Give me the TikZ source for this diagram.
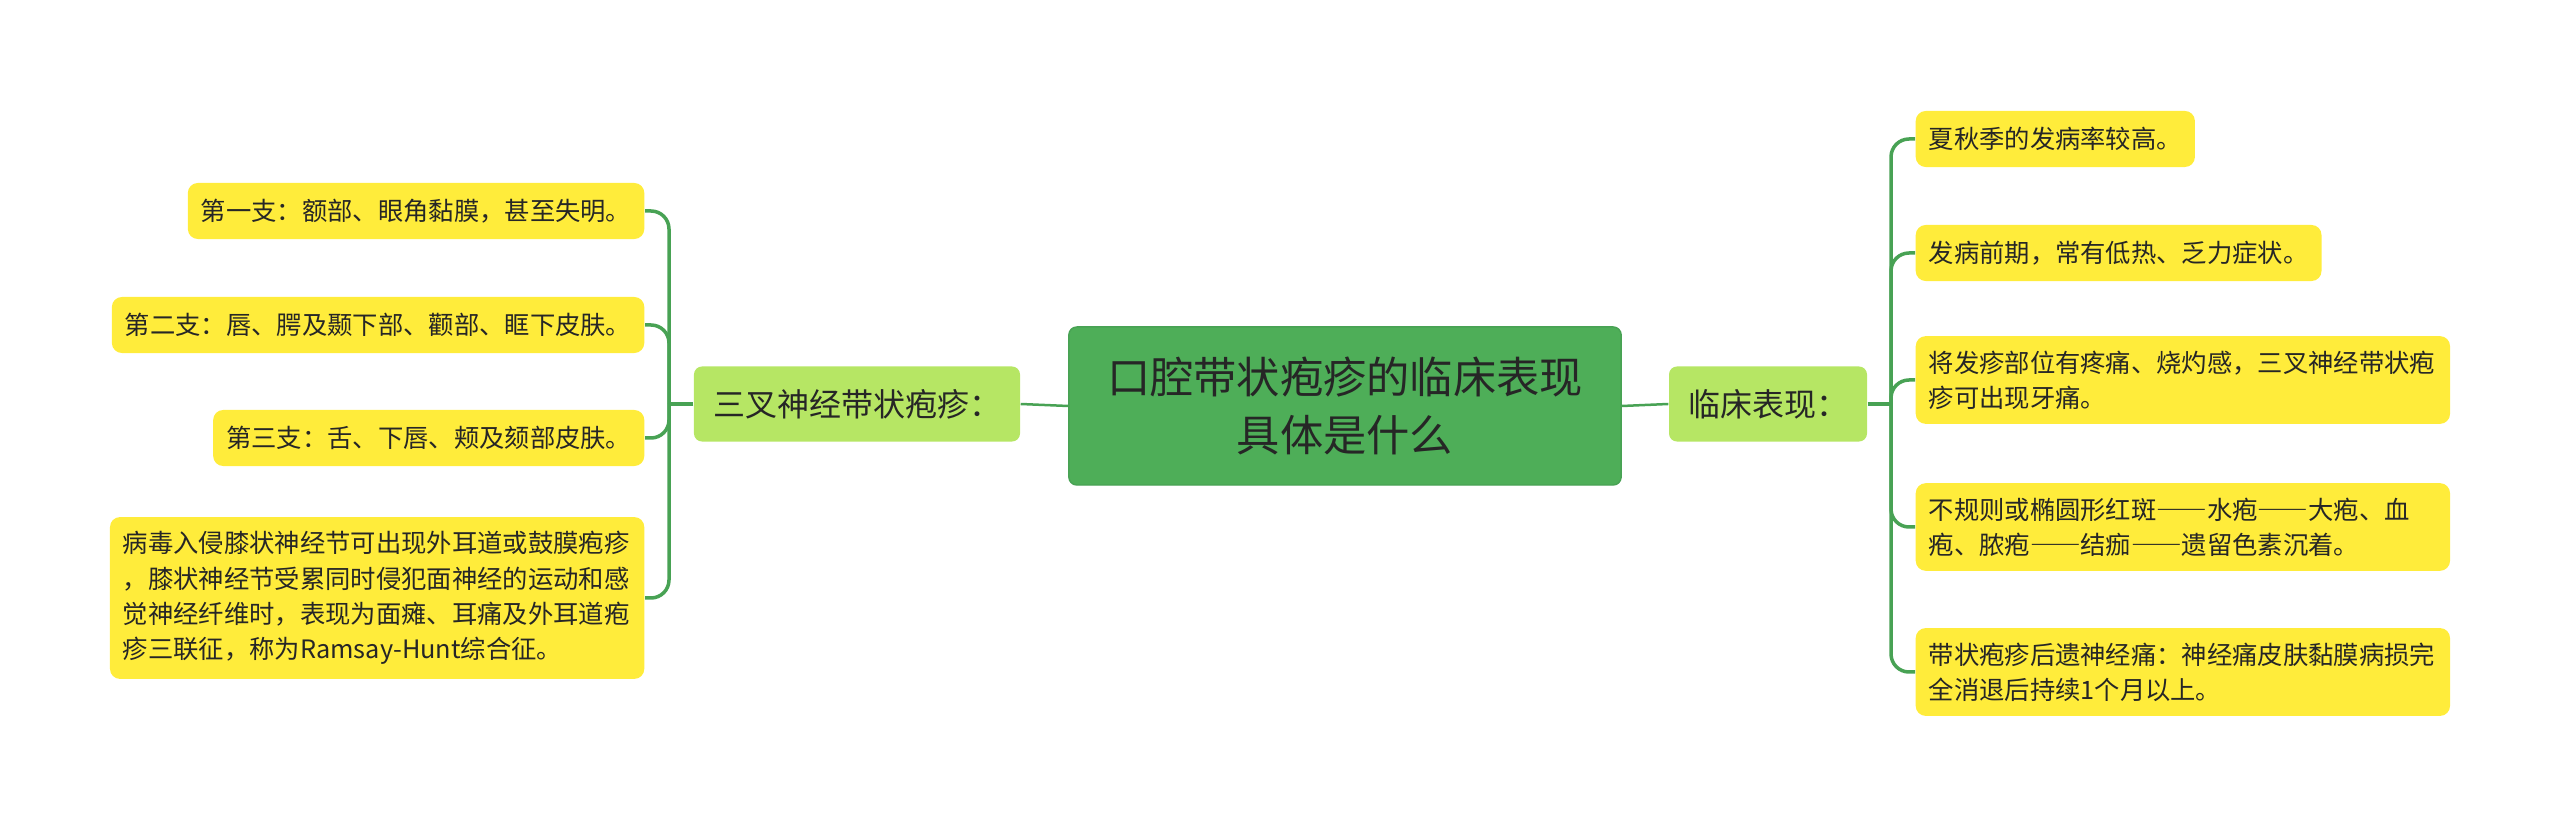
\documentclass[tikz,border=0pt]{standalone}
\usepackage{fontspec}
\setmainfont{Noto Sans CJK SC}
\newfontfamily\widedash[RawFeature=+fwid]{Noto Sans CJK SC}
\newcommand\longdash{{\widedash ——}}
\definecolor{emerald}{RGB}{78, 174, 88}
\definecolor{nephritis}{RGB}{72, 162, 84}
\definecolor{lime}{RGB}{182, 230, 100}
\definecolor{sunflower}{RGB}{255, 236, 59}
\definecolor{ink}{RGB}{38, 38, 38}

\begin{document}
\begin{tikzpicture}[x=0.01cm, y=-0.01cm,
        rootbox/.style={fill=emerald, draw=nephritis, rounded corners=0.08cm, align=center,
                        minimum width=5.52cm, minimum height=1.58cm, text=ink,
                        font=\fontsize{12.3}{16.7}\selectfont},
        topicbox/.style={fill=lime, rounded corners=0.08cm, inner xsep=0.19cm, minimum height=0.75cm,
                         text=ink, font=\fontsize{9.1}{12}\selectfont},
        leafbox/.style={fill=sunflower, rounded corners=0.1cm, inner xsep=0.13cm, inner ysep=0.145cm,
                        minimum height=0.56cm, align=left, text=ink, font=\fontsize{7.2}{10}\selectfont},
        widebox/.style={leafbox, text width=5.08cm},
        trunk/.style={nephritis, line width=0.025cm},
        twig/.style={nephritis, line width=0.035cm, rounded corners=0.18cm}]
            \useasboundingbox (0, 0) rectangle (2560, 828);
            % Centre
            \node[rootbox]                  (root)  at (1345, 406) {口腔带状疱疹的临床表现\\具体是什么};
            \node[topicbox]                 (lmain) at ( 857, 404) {三叉神经带状疱疹：};
            \node[topicbox]                 (rmain) at (1768, 404) {临床表现：};
            \coordinate                     (lbar)  at ( 669, 404);
            \coordinate                     (rbar)  at (1891, 404);
            % Left leaves
            \node[leafbox,  anchor=east]    (l1)    at ( 645, 211) {第一支：额部、眼角黏膜，甚至失明。};
            \node[leafbox,  anchor=east]    (l2)    at ( 645, 325) {第二支：唇、腭及颞下部、颧部、眶下皮肤。};
            \node[leafbox,  anchor=east]    (l3)    at ( 645, 438) {第三支：舌、下唇、颊及颏部皮肤。};
            \node[widebox,  anchor=east]    (l4)    at ( 645, 598) {病毒入侵膝状神经节可出现外耳道或鼓膜疱疹\\，膝状神经节受累同时侵犯面神经的运动和感\\觉神经纤维时，表现为面瘫、耳痛及外耳道疱\\疹三联征，称为Ramsay-Hunt综合征。};
            % Right leaves
            \node[leafbox,  anchor=west]    (r1)    at (1915, 139) {夏秋季的发病率较高。};
            \node[leafbox,  anchor=west]    (r2)    at (1915, 253) {发病前期，常有低热、乏力症状。};
            \node[widebox,  anchor=west]    (r3)    at (1915, 380) {将发疹部位有疼痛、烧灼感，三叉神经带状疱\\疹可出现牙痛。};
            \node[widebox,  anchor=west]    (r4)    at (1915, 527) {不规则或椭圆形红斑\longdash 水疱\longdash 大疱、血\\疱、脓疱\longdash 结痂\longdash 遗留色素沉着。};
            \node[widebox,  anchor=west]    (r5)    at (1915, 672) {带状疱疹后遗神经痛：神经痛皮肤黏膜病损完\\全消退后持续1个月以上。};
            % Connectors
            \draw[trunk]                    (root.west)  -- (lmain.east);
            \draw[trunk]                    (root.east)  -- (rmain.west);
            \draw[twig]                     (lmain.west) -- (lbar);
            \draw[twig]                     (rmain.east) -- (rbar);
            \foreach \leaf in {l1, l2, l3, l4}
                \draw[twig]                 (lbar) |- (\leaf.east);
            \foreach \leaf in {r1, r2, r3, r4, r5}
                \draw[twig]                 (rbar) |- (\leaf.west);
        \end{tikzpicture}
\end{document}
